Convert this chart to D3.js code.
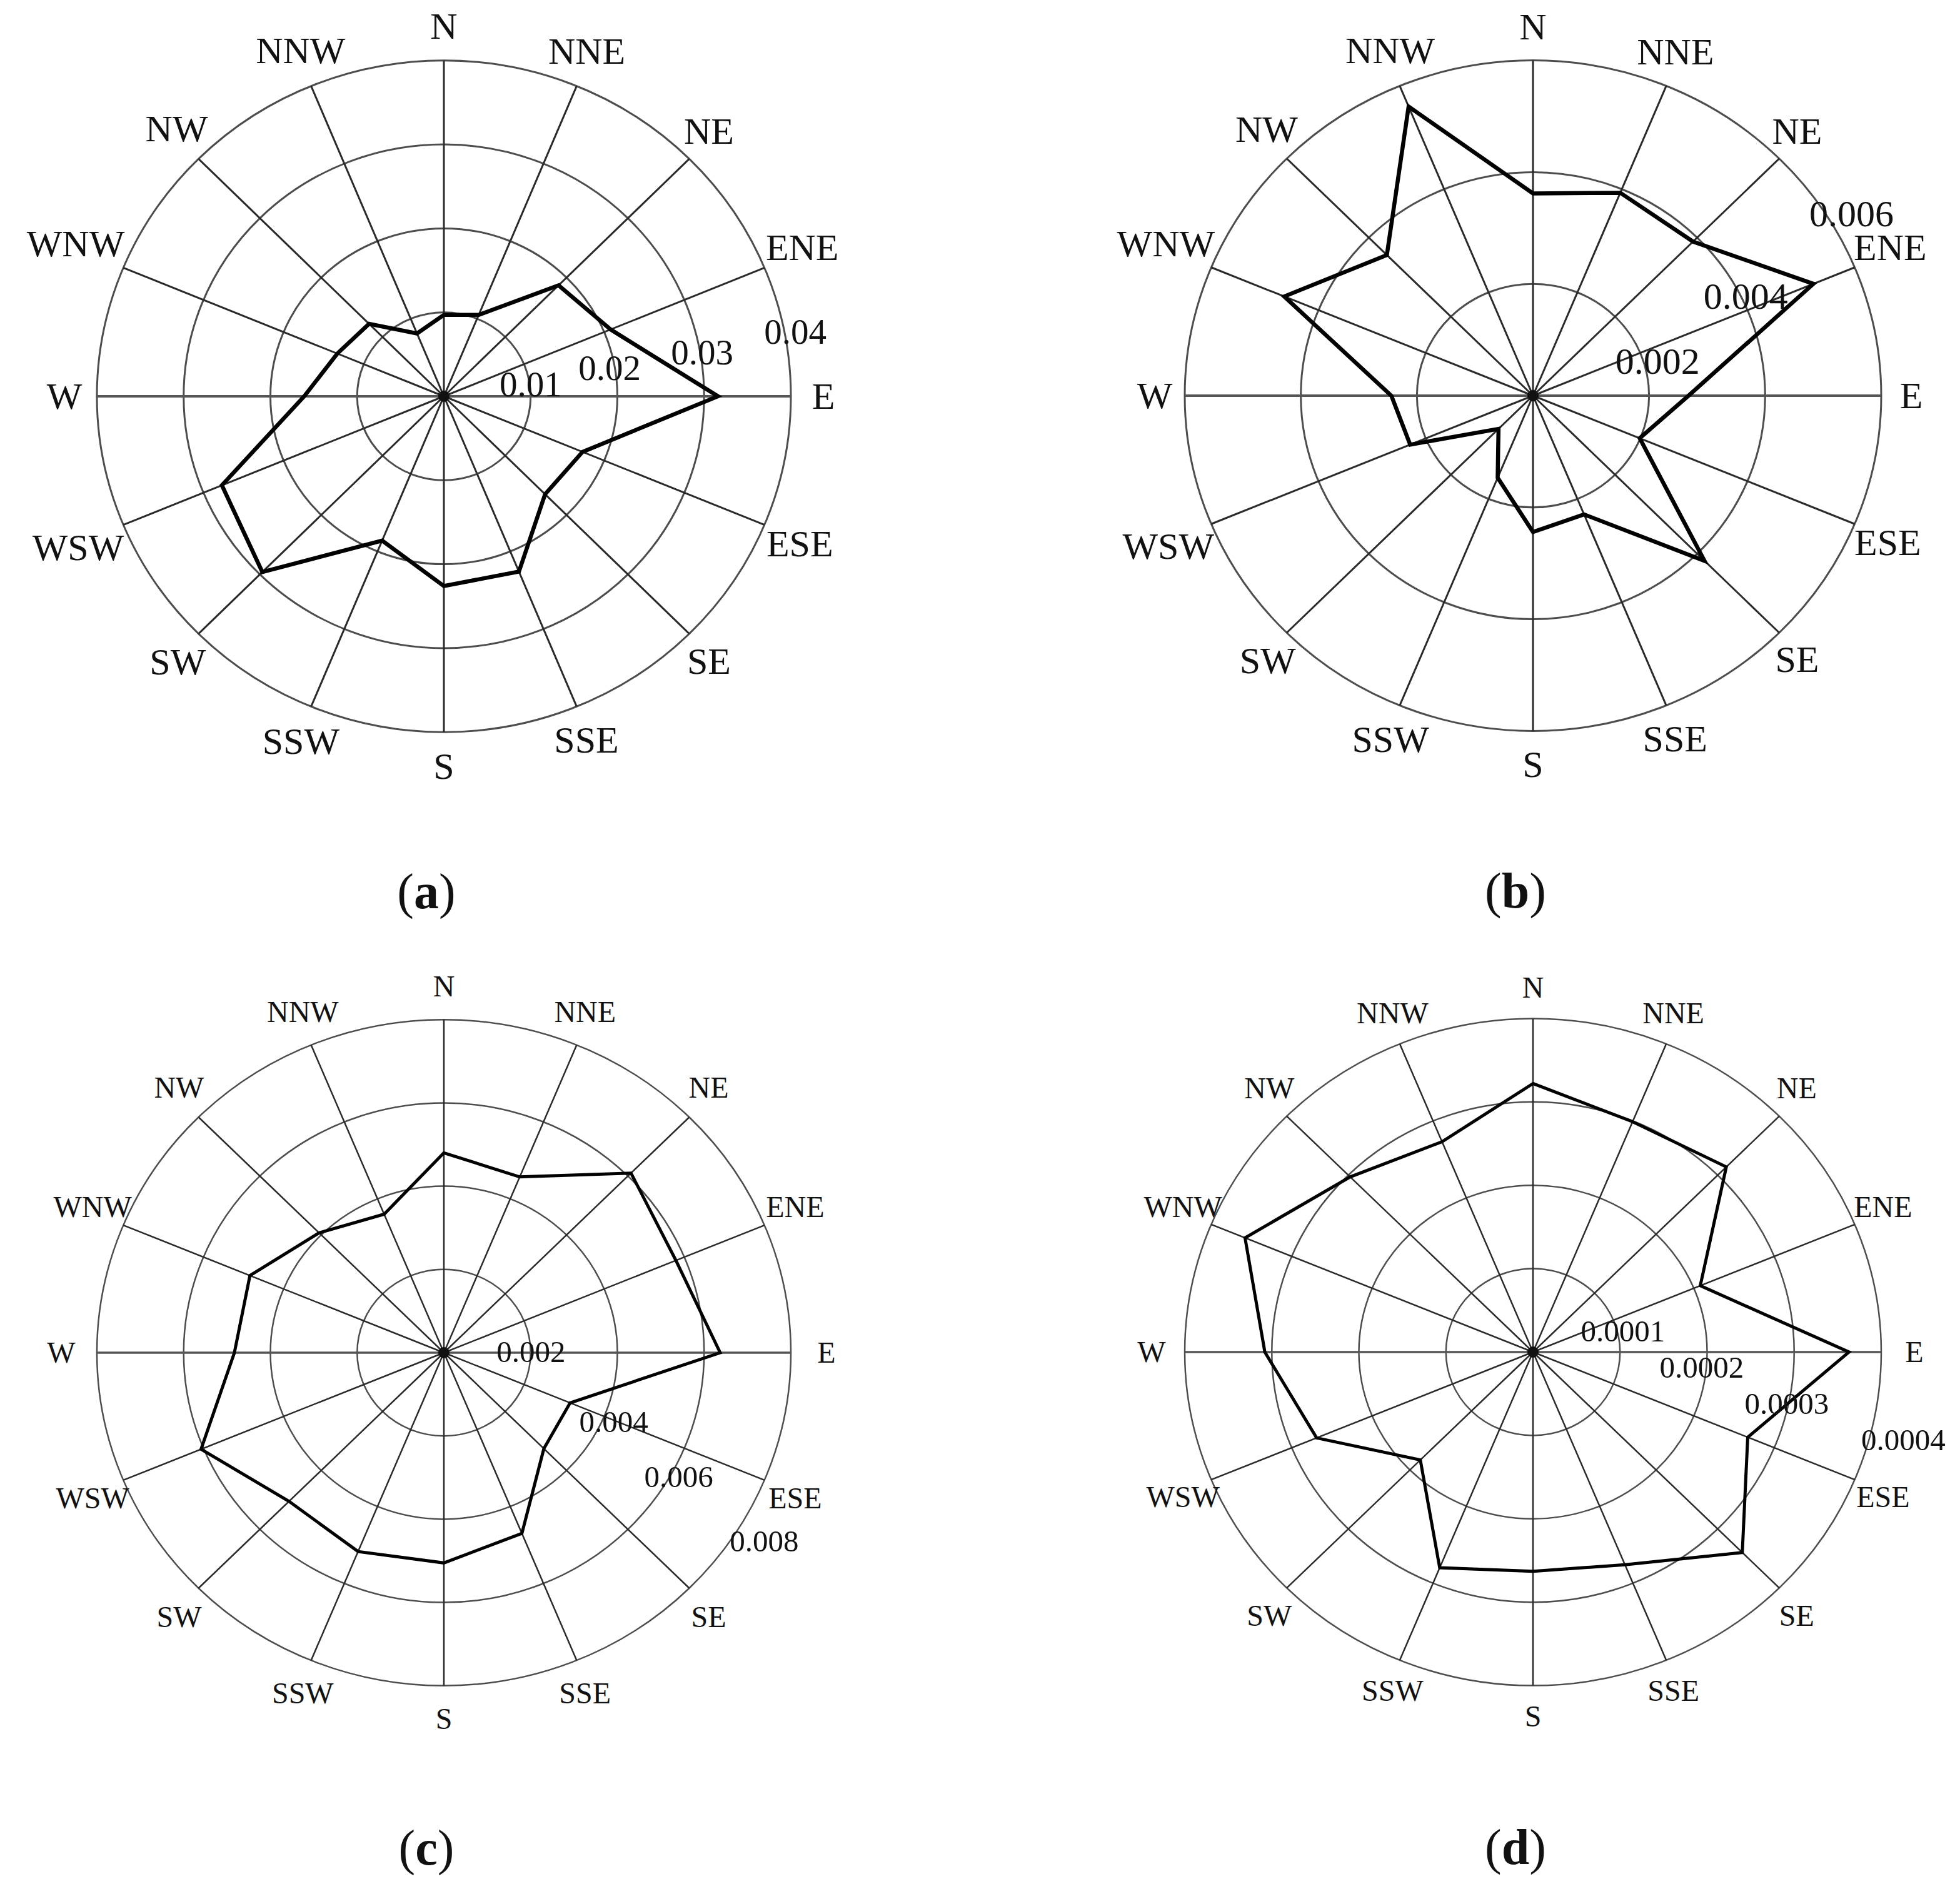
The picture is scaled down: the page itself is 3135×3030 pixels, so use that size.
<!DOCTYPE html>
<html>
<head>
<meta charset="utf-8">
<script src="https://cdn.jsdelivr.net/npm/d3@7"></script>
<style>
body { margin: 0; background: #fff; }
text { font-family: "Liberation Serif", "Times New Roman", serif; fill: #111; }
</style>
</head>
<body>
<script>
// 16 compass directions, clockwise from north
var directions = ["N","NNE","NE","ENE","E","ESE","SE","SSE","S","SSW","SW","WSW","W","WNW","NW","NNW"];

// values read from the four roses
var valuesA = [0.0097, 0.0105, 0.0187, 0.0208, 0.0316, 0.0173, 0.0165, 0.0226,
               0.0226, 0.0186, 0.0296, 0.0277, 0.0161, 0.0133, 0.0122, 0.0081];
var valuesB = [0.00362, 0.00393, 0.0039, 0.00523, 0.00268, 0.00199, 0.00418, 0.0023,
               0.00244, 0.00159, 0.00084, 0.00229, 0.00244, 0.00464, 0.00356, 0.0056];
var valuesC = [0.0048, 0.00457, 0.0061, 0.00579, 0.00637, 0.00315, 0.00326, 0.0047,
               0.00505, 0.00517, 0.00505, 0.00606, 0.00483, 0.00484, 0.00407, 0.0036];
var valuesD = [0.000322, 0.000299, 0.000314, 0.000208, 0.000363, 0.000267, 0.00034, 0.000276,
               0.000263, 0.00028, 0.000183, 0.000269, 0.000308, 0.000358, 0.000297, 0.000273];

// radial ticks and their labels
var ticksA = [0.01, 0.02, 0.03, 0.04];
var ticksB = [0.002, 0.004, 0.006];
var ticksC = [0.002, 0.004, 0.006, 0.008];
var ticksD = [0.0001, 0.0002, 0.0003, 0.0004];
var tickTextA = ["0.01", "0.02", "0.03", "0.04"];
var tickTextB = ["0.002", "0.004", "0.006"];
var tickTextC = ["0.002", "0.004", "0.006", "0.008"];
var tickTextD = ["0.0001", "0.0002", "0.0003", "0.0004"];

var captions = ["a", "b", "c", "d"];

// layout per panel
var panels = [
  { values: valuesA, ticks: ticksA, tickText: tickTextA, cx: 710, cy: 634, R: 555, ky: 0.968,
    font: 60, tickFont: 57, line: 6.5, grid: 3,
    tickAng: [0, 5.6, 7.1, 8.5], tickFac: [1.0, 0.96, 1.0, 1.024],
    labBase: 592, labE0: 15, labE1: 1 },
  { values: valuesB, ticks: ticksB, tickText: tickTextB, cx: 2452, cy: 633, R: 557, ky: 0.963,
    font: 60, tickFont: 60, line: 6.5, grid: 3,
    tickAng: [10, 22.3, 28], tickFac: [1.09, 0.99, 1.036],
    labBase: 590, labE0: 15, labE1: 1 },
  { values: valuesC, ticks: ticksC, tickText: tickTextC, cx: 710, cy: 2164, R: 555, ky: 0.96,
    font: 48, tickFont: 49, line: 5, grid: 2.5,
    tickAng: [-6, -25, -29.8, -31.8], tickFac: [1.01, 1.08, 1.04, 1.086],
    labBase: 586, labE0: 26, labE1: 0 },
  { values: valuesD, ticks: ticksD, tickText: tickTextD, cx: 2452, cy: 2163, R: 557, ky: 0.958,
    font: 48, tickFont: 49, line: 5, grid: 2.5,
    tickAng: [6.8, -8.6, -13.7, -14.8], tickFac: [1.04, 0.98, 1.0, 1.10],
    labBase: 583, labE0: 27, labE1: 0 }
];

var W = 3135, H = 3030;
var svg = d3.select("body").append("svg")
  .attr("width", W).attr("height", H)
  .attr("viewBox", "0 0 " + W + " " + H);
svg.append("rect").attr("width", W).attr("height", H).attr("fill", "#fff");

var step = 2 * Math.PI / directions.length;

panels.forEach(function (p, k) {
  var maxV = p.ticks[p.ticks.length - 1];
  var r = d3.scaleLinear().domain([0, maxV]).range([0, p.R]);

  var root = svg.append("g");
  // slightly flattened polar frame, like the reference
  var g = root.append("g")
    .attr("transform", "translate(" + p.cx + "," + p.cy + ") scale(1," + p.ky + ")");

  g.selectAll("circle.ring")
    .data(p.ticks)
    .enter().append("circle")
    .attr("class", "ring")
    .attr("r", function (d) { return r(d); })
    .attr("fill", "none")
    .attr("stroke", "#4d4d4d")
    .attr("stroke-width", p.grid)
    .attr("vector-effect", "non-scaling-stroke");

  g.selectAll("line.spoke")
    .data(directions)
    .enter().append("line")
    .attr("class", "spoke")
    .attr("x1", 0).attr("y1", 0)
    .attr("x2", function (d, i) { return p.R * Math.sin(i * step); })
    .attr("y2", function (d, i) { return -p.R * Math.cos(i * step); })
    .attr("stroke", function (d, i) { return (i === 4 || i === 12) ? "#555" : "#2a2a2a"; })
    .attr("stroke-width", function (d, i) { return (i === 4 || i === 12) ? p.grid + 1.2 : p.grid; })
    .attr("vector-effect", "non-scaling-stroke");

  var line = d3.lineRadial()
    .angle(function (d, i) { return i * step; })
    .radius(function (d) { return r(d); })
    .curve(d3.curveLinearClosed);

  g.append("path")
    .datum(p.values)
    .attr("d", line)
    .attr("fill", "none")
    .attr("stroke", "#000")
    .attr("stroke-width", p.line)
    .attr("stroke-linejoin", "miter")
    .attr("vector-effect", "non-scaling-stroke");

  root.append("circle")
    .attr("cx", p.cx).attr("cy", p.cy).attr("r", 9).attr("fill", "#111");

  // direction labels
  var labs = root.selectAll("text.dir")
    .data(directions)
    .enter().append("text")
    .attr("class", "dir")
    .attr("font-size", p.font)
    .attr("text-anchor", "middle")
    .attr("dy", "0.33em")
    .text(function (d) { return d; });

  labs.each(function (d, i) {
    var hw = this.getComputedTextLength() / 2;
    var a = Math.PI / 2 - i * step;
    var c = Math.cos(a);
    var t = p.labBase + c * c * (p.labE0 + p.labE1 * Math.max(0, hw - 40));
    d3.select(this)
      .attr("x", p.cx + t * Math.cos(a))
      .attr("y", p.cy - t * Math.sin(a));
  });

  // radial tick labels
  root.selectAll("text.tick")
    .data(p.ticks)
    .enter().append("text")
    .attr("class", "tick")
    .attr("font-size", p.tickFont)
    .attr("text-anchor", "middle")
    .attr("x", function (d, i) {
      return p.cx + p.tickFac[i] * r(d) * Math.cos(p.tickAng[i] * Math.PI / 180);
    })
    .attr("y", function (d, i) {
      return p.cy - p.tickFac[i] * r(d) * Math.sin(p.tickAng[i] * Math.PI / 180);
    })
    .text(function (d, i) { return p.tickText[i]; });

  // panel caption
  var cap = root.append("text")
    .attr("x", p.cx - 28)
    .attr("y", p.cy + 819)
    .attr("font-size", 80)
    .attr("text-anchor", "middle");
  cap.append("tspan").text("(");
  cap.append("tspan").attr("font-weight", "bold").text(captions[k]);
  cap.append("tspan").text(")");
});
</script>
</body>
</html>
